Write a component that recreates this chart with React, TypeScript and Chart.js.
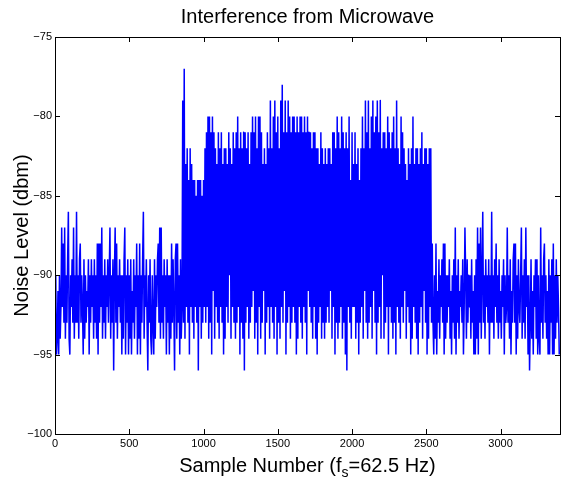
import React, { useEffect, useRef } from 'react';
import { Chart, registerables } from 'chart.js';

Chart.register(...registerables);

const FONT = '"Liberation Sans", Arial, Helvetica, sans-serif';

// Readings are logged every 5th sample; each symbol is one level in dBm:
// '0' = -96 dBm and every following symbol is 1 dB higher, up to 'J' = -77 dBm.
const SAMPLE_STEP = 5;
const LEVEL_CODES = '0123456789ABCDEFGHIJ';
const LEVEL_FLOOR = -96;

// Quiet noise floor before the oven switches on (samples 0-865)
const quietBefore =
  '3612516249' + '48392637A2' + '164739263A' + '3627836417' + '2635471637' +
  '4627362818' + '3849263726' + '4736926370' + '6938264736' + '1627916371' +
  '6271537264' + '816281637A' + '2647306372' + '1631726478' + '3929362746' +
  '1736162837' + '4078283617' + '24H3';

// Switch-on burst (samples 870-1005)
const switchOn = 'J2D4E3C1E4D3C2C4B3C0C4C2B3C4';

// Oven running: peak and trough readings alternate (samples 1010-2535)
const runningPeaks =
  'EFGGFGFEDF' + 'EFDEEDFEDF' + 'EFGEFEFFEF' + 'DFGFGEGGFD' + 'EDFEHEGHFG' +
  'EHIFHFHGFG' + 'GFGFGGFGFG' + 'FFEFFEEDFE' + 'DEDEEDFFEG' + 'FEGFEFEGCF' +
  'DFDECEGEHF' + 'HEGHFGHFHE' + 'FFEGFEFGEH' + 'EDGFEDCEDE' + 'GDEEDEFDEE' +
  'DEE';
const runningTroughs =
  '3423152432' + '4312436243' + '2341320342' + '3452314235' + '1342432413' +
  '2435134234' + '3124324315' + '4324213423' + '2343524132' + '3423104324' +
  '4231342532' + '3425313426' + '2341432314' + '3243524312' + '4321342531243';

// Quiet noise floor after the oven stops (samples 2540-3395)
const quietAfter =
  '8316281537' + '2647381826' + '3647251637' + '2916372546' + '3714962736' +
  '4627351617' + '29183926A3' + '6274637163' + 'A362748362' + '7352647163' +
  '4936271537' + '8381627436' + '9263729461' + '6037251647' + '2716219362' +
  '7836251716' + '3718162736' + '41';

const xTicks = [0, 500, 1000, 1500, 2000, 2500, 3000];
const yTicks = [-100, -95, -90, -85, -80, -75];
const X_MAX = 3400;

const decode = (codes: string): number[] =>
  codes.split('').map((c) => LEVEL_FLOOR + LEVEL_CODES.indexOf(c));

function buildLevels(): number[] {
  const peaks = decode(runningPeaks);
  const troughs = decode(runningTroughs);
  const running: number[] = [];
  peaks.forEach((p, i) => {
    running.push(p);
    if (i < troughs.length) running.push(troughs[i]);
  });
  return [...decode(quietBefore), ...decode(switchOn), ...running, ...decode(quietAfter)];
}

const minus = (v: number) => (v < 0 ? '\u2212' + Math.abs(v) : String(v));

// Box around the plot with short inward tick marks on all four sides
const framePlugin = {
  id: 'frame',
  afterDatasetsDraw(chart: any) {
    const { ctx, chartArea: a, scales } = chart;
    const len = 5;
    ctx.save();
    ctx.strokeStyle = '#000';
    ctx.lineWidth = 1;
    ctx.beginPath();
    xTicks.forEach((v) => {
      const px = Math.round(scales.x.getPixelForValue(v)) + 0.5;
      ctx.moveTo(px, a.bottom);
      ctx.lineTo(px, a.bottom - len);
      ctx.moveTo(px, a.top);
      ctx.lineTo(px, a.top + len);
    });
    yTicks.forEach((v) => {
      const py = Math.round(scales.y.getPixelForValue(v)) + 0.5;
      ctx.moveTo(a.left, py);
      ctx.lineTo(a.left + len, py);
      ctx.moveTo(a.right, py);
      ctx.lineTo(a.right - len, py);
    });
    ctx.stroke();
    ctx.strokeRect(Math.round(a.left) + 0.5, Math.round(a.top) + 0.5,
      Math.round(a.right - a.left), Math.round(a.bottom - a.top));
    ctx.restore();
  },
};

// X-axis title with a subscript "s" in f_s
const xTitlePlugin = {
  id: 'xTitle',
  afterDraw(chart: any) {
    const { ctx, chartArea: a } = chart;
    const before = 'Sample Number (f';
    const sub = 's';
    const after = '=62.5 Hz)';
    ctx.save();
    ctx.fillStyle = '#000';
    ctx.textAlign = 'left';
    ctx.textBaseline = 'alphabetic';
    ctx.font = `20px ${FONT}`;
    const w1 = ctx.measureText(before).width;
    const w3 = ctx.measureText(after).width;
    ctx.font = `14px ${FONT}`;
    const w2 = ctx.measureText(sub).width;
    const x0 = (a.left + a.right) / 2 - (w1 + w2 + w3) / 2;
    const base = a.bottom + 38;
    ctx.font = `20px ${FONT}`;
    ctx.fillText(before, x0, base);
    ctx.fillText(after, x0 + w1 + w2, base);
    ctx.font = `14px ${FONT}`;
    ctx.fillText(sub, x0 + w1, base + 5);
    ctx.restore();
  },
};

export default function App() {
  const canvasRef = useRef<HTMLCanvasElement | null>(null);

  useEffect(() => {
    document.body.style.margin = '0';
    const canvas = canvasRef.current;
    if (!canvas) return;
    const levels = buildLevels();
    const points = levels.map((y, i) => ({ x: i * SAMPLE_STEP, y }));

    const chart = new Chart(canvas, {
      type: 'line',
      data: {
        datasets: [
          {
            data: points,
            borderColor: '#0000ff',
            borderWidth: 1.5,
            pointRadius: 0,
            // a tiny tension keeps every segment on the full path renderer
            tension: 0.0001,
            fill: false,
          },
        ],
      },
      options: {
        animation: false,
        responsive: false,
        maintainAspectRatio: false,
        events: [],
        layout: { padding: { right: 14 } },
        plugins: {
          legend: { display: false },
          tooltip: { enabled: false },
          title: {
            display: true,
            text: 'Interference from Microwave',
            color: '#000',
            fullSize: false,
            font: { family: FONT, size: 20, weight: 'normal', lineHeight: 1.2 },
            padding: { top: 5, bottom: 8 },
          },
        },
        scales: {
          x: {
            type: 'linear',
            min: 0,
            max: X_MAX,
            grid: { display: false, drawTicks: false },
            border: { display: false },
            afterBuildTicks: (scale: any) => {
              scale.ticks = xTicks.map((value) => ({ value }));
            },
            afterFit: (scale: any) => {
              scale.height = 45;
            },
            ticks: {
              autoSkip: false,
              maxRotation: 0,
              color: '#000',
              padding: 3,
              font: { family: FONT, size: 11 },
              callback: (v: any) => String(v),
            },
          },
          y: {
            type: 'linear',
            min: -100,
            max: -75,
            grid: { display: false, drawTicks: false },
            border: { display: false },
            afterBuildTicks: (scale: any) => {
              scale.ticks = yTicks.map((value) => ({ value }));
            },
            afterFit: (scale: any) => {
              scale.width = 55;
            },
            title: {
              display: true,
              text: 'Noise Level (dbm)',
              color: '#000',
              font: { family: FONT, size: 20, lineHeight: 1.2 },
              padding: { top: 10, bottom: 0 },
            },
            ticks: {
              color: '#000',
              padding: 3,
              font: { family: FONT, size: 11 },
              callback: (v: any) => minus(Number(v)),
            },
          },
        },
      },
      plugins: [framePlugin, xTitlePlugin],
    } as any);

    return () => chart.destroy();
  }, []);

  return (
    <div style={{ width: 574, height: 479 }}>
      <canvas ref={canvasRef} width={574} height={479} style={{ display: 'block' }} />
    </div>
  );
}
